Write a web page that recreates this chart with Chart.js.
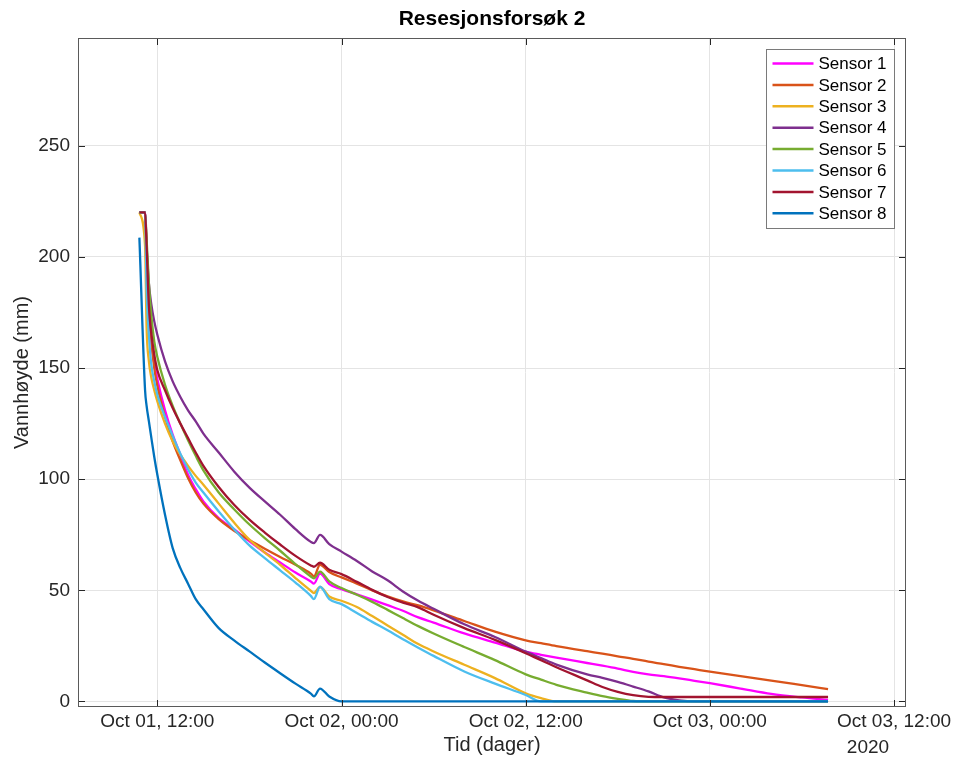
<!DOCTYPE html>
<html>
<head>
<meta charset="utf-8">
<script src="https://cdn.jsdelivr.net/npm/chart.js@4.4.1/dist/chart.umd.min.js"></script>
<style>
html,body{margin:0;padding:0;background:#ffffff;}
canvas{display:block;}
</style>
</head>
<body>
<canvas id="c" width="956" height="767"></canvas>
<script>
// ---------- text ----------
const chartTitle = 'Resesjonsforsøk 2';
const xAxisTitle = 'Tid (dager)';
const yAxisTitle = 'Vannhøyde (mm)';
const yearLabel = '2020';

// ---------- ticks (x in hours since Oct 01 00:00) ----------
const xTickHours = [12, 24, 36, 48, 60];
const xTickLabels = ['Oct 01, 12:00', 'Oct 02, 00:00', 'Oct 02, 12:00', 'Oct 03, 00:00', 'Oct 03, 12:00'];
const yTickValues = [0, 50, 100, 150, 200, 250];

// ---------- series ----------
const sensorNames = ['Sensor 1', 'Sensor 2', 'Sensor 3', 'Sensor 4', 'Sensor 5', 'Sensor 6', 'Sensor 7', 'Sensor 8'];
const sensorColors = ['#FF00FF', '#D95319', '#EDB120', '#7E2F8E', '#77AC30', '#4DBEEE', '#A2142F', '#0072BD'];

const timeHours = [10.83, 11.2, 11.3, 11.45, 11.6, 11.8, 12, 12.5, 13, 13.5, 14, 14.5, 15, 16, 17, 18, 19, 20, 21, 22,
  22.2, 22.6, 23.2, 24, 25, 26, 27, 28, 29, 30, 32, 34, 36, 37, 38, 40, 41, 42, 43, 44, 45, 46, 47, 48, 50, 52, 54, 55.7];

const sensor1 = [220, 220, 200, 178, 163, 152, 145, 131, 120, 111, 102, 95.5, 90, 82.5, 77.5, 72, 67, 62.5, 58, 54,
  53, 57.5, 52.8, 50.5, 48.2, 45.8, 43.3, 40.8, 37.8, 35.5, 30.6, 26.5, 22.4, 21, 19.7, 17.3, 16.1, 14.8, 13.3, 12.2, 11.4, 10.4, 9.3, 8.2, 5.8, 3.4, 1.8, 0.7];
const sensor2 = [220, 220, 203, 180, 163, 150, 142, 128, 117, 108.5, 100.5, 94, 89, 82, 76.8, 72.6, 68.7, 65, 61.5, 57.5,
  56.3, 61.5, 58.2, 55.8, 53, 50, 47.3, 45, 43.2, 41, 36.2, 31.4, 27.5, 26.2, 24.9, 22.6, 21.5, 20.3, 19.2, 17.9, 16.8, 15.6, 14.5, 13.4, 11.4, 9.4, 7.3, 5.5];
const sensor3 = [220, 205, 168, 153, 146, 140, 135, 125, 117, 111, 106, 101.5, 97.5, 89, 80.5, 72.8, 67, 61.5, 55.5, 49.8,
  48.8, 51.5, 47.2, 45.3, 42.5, 38.4, 34.2, 30, 25.8, 22.5, 16.5, 10.5, 3.7, 1.5, 0, 0, 0, 0, 0, 0, 0, 0, 0, 0, 0, 0, 0, 0];
const sensor4 = [220, 220, 205, 188, 179, 171, 165, 153, 144, 137, 131, 126, 120.5, 112, 103.5, 96.2, 90, 84, 77.5, 71.8,
  71.2, 74.9, 70.8, 67.4, 63.2, 58.5, 54.5, 49.5, 45.3, 41.7, 34.7, 29, 22.4, 19.5, 16.6, 12.2, 10.6, 8.8, 6.7, 4.5, 1.8, 0.5, 0, 0, 0, 0, 0, 0];
const sensor5 = [220, 220, 208, 188, 174, 162, 155, 142.5, 133, 125, 117.5, 110.5, 104, 94, 86.5, 79.6, 73.5, 67.8, 61.8, 56.2,
  55.4, 58.4, 54, 51, 48, 44.8, 41.2, 37.5, 33.9, 30.6, 24.5, 18.6, 12.2, 9.8, 7.5, 4, 2.4, 1.2, 0.2, 0, 0, 0, 0, 0, 0, 0, 0, 0];
const sensor6 = [220, 220, 185, 165, 152, 144, 138, 128, 119.5, 111.5, 104.5, 98.5, 94, 85.5, 77.5, 70.2, 64.5, 59, 53.5, 47.5,
  46, 51.6, 46, 43.8, 39.8, 35.8, 32, 28, 24.2, 20.5, 13.5, 8, 2.9, 0, 0, 0, 0, 0, 0, 0, 0, 0, 0, 0, 0, 0, 0, 0];
const sensor7 = [220, 220, 205, 178, 166, 156, 149, 140, 132, 125, 118.5, 112, 106, 96.5, 88.5, 81.8, 76, 70.6, 65.5, 61.2,
  60.6, 62.4, 59.2, 57.3, 53.8, 50.2, 47, 44.5, 42.3, 39, 33, 27.7, 21.7, 18.5, 15.4, 9.5, 6.5, 4.3, 2.8, 2.1, 2, 2, 2, 2, 2, 2, 2, 2];
const sensor8 = [208.7, 140, 133, 126, 119, 110, 102, 84, 69, 60, 53, 46, 41.5, 33, 27.5, 22.5, 17.5, 12.7, 8, 3.5,
  2.3, 5.8, 2.2, 0, 0, 0, 0, 0, 0, 0, 0, 0, 0, 0, 0, 0, 0, 0, 0, 0, 0, 0, 0, 0, 0, 0, 0, 0];

const seriesValues = [sensor1, sensor2, sensor3, sensor4, sensor5, sensor6, sensor7, sensor8];

// ---------- styling ----------
const FONT = "'Liberation Sans', Arial, Helvetica, sans-serif";
const TEXT = '#262626';

const datasets = sensorNames.map((name, i) => ({
  label: name,
  data: timeHours.map((t, k) => ({ x: t, y: seriesValues[i][k] })),
  borderColor: sensorColors[i],
  backgroundColor: sensorColors[i],
  borderWidth: 2.3,
  pointRadius: 0,
  cubicInterpolationMode: 'monotone',
  fill: false,
  order: sensorNames.length - 1 - i
}));

const decor = {
  id: 'decor',
  afterDraw(chart) {
    const { ctx, chartArea: a, scales: { x, y } } = chart;
    ctx.save();
    // title
    ctx.fillStyle = '#000';
    ctx.font = `bold 21px ${FONT}`;
    ctx.textAlign = 'center';
    ctx.textBaseline = 'middle';
    ctx.fillText(chartTitle, (a.left + a.right) / 2, 19);
    // year label
    ctx.fillStyle = TEXT;
    ctx.font = `19px ${FONT}`;
    ctx.fillText(yearLabel, 868, 748);
    // tick marks (inside)
    ctx.strokeStyle = '#262626';
    ctx.lineWidth = 1;
    ctx.beginPath();
    xTickHours.forEach(h => {
      const px = Math.round(x.getPixelForValue(h)) + 0.5;
      ctx.moveTo(px, a.bottom); ctx.lineTo(px, a.bottom - 7);
      ctx.moveTo(px, a.top); ctx.lineTo(px, a.top + 7);
    });
    yTickValues.forEach(v => {
      const py = Math.round(y.getPixelForValue(v)) + 0.5;
      ctx.moveTo(a.left, py); ctx.lineTo(a.left + 7, py);
      ctx.moveTo(a.right, py); ctx.lineTo(a.right - 7, py);
    });
    ctx.stroke();
    // box
    ctx.strokeStyle = '#5a5a5a';
    ctx.strokeRect(Math.round(a.left) + 0.5, Math.round(a.top) + 0.5, Math.round(a.width) - 1, Math.round(a.height) - 1);
    // legend
    const boxW = 128, boxH = 179, rowH = 21.4;
    const bx = Math.round(a.right - 12 - boxW) + 0.5, by = Math.round(a.top + 11) + 0.5;
    ctx.fillStyle = '#fff';
    ctx.fillRect(bx, by, boxW, boxH);
    ctx.strokeStyle = '#7a7a7a';
    ctx.strokeRect(bx, by, boxW, boxH);
    ctx.font = `17px ${FONT}`;
    ctx.textAlign = 'left';
    ctx.textBaseline = 'middle';
    chart.data.datasets.forEach((ds, i) => {
      const cy = by + 14 + i * rowH;
      ctx.strokeStyle = ds.borderColor;
      ctx.lineWidth = 2.5;
      ctx.beginPath();
      ctx.moveTo(bx + 6, cy); ctx.lineTo(bx + 47, cy);
      ctx.stroke();
      ctx.fillStyle = '#000';
      ctx.fillText(ds.label, bx + 52, cy + 1);
    });
    ctx.restore();
  }
};

new Chart(document.getElementById('c'), {
  type: 'line',
  data: { datasets },
  plugins: [decor],
  options: {
    responsive: false,
    animation: false,
    devicePixelRatio: 1,
    layout: { padding: { left: 0, right: 50, top: 38, bottom: 0 } },
    plugins: { legend: { display: false }, title: { display: false }, tooltip: { enabled: false } },
    scales: {
      x: {
        type: 'linear',
        min: 6.83,
        max: 60.78,
        afterBuildTicks: s => { s.ticks = xTickHours.map(v => ({ value: v })); },
        afterFit: s => { s.height = 60; },
        ticks: {
          autoSkip: false, maxRotation: 0, minRotation: 0, padding: 3,
          color: TEXT, font: { family: FONT, size: 19 },
          callback: v => { const i = xTickHours.indexOf(v); return i >= 0 ? xTickLabels[i] : ''; }
        },
        grid: { color: '#e4e4e4', lineWidth: 1, drawTicks: false },
        border: { display: false },
        title: { display: true, text: xAxisTitle, color: TEXT, font: { family: FONT, size: 20 }, padding: { top: 0, bottom: 10 } }
      },
      y: {
        type: 'linear',
        min: -2.5,
        max: 298.5,
        afterBuildTicks: s => { s.ticks = yTickValues.map(v => ({ value: v })); },
        afterFit: s => { s.width = 78; },
        ticks: { padding: 8, color: TEXT, font: { family: FONT, size: 19 } },
        grid: { color: '#e4e4e4', lineWidth: 1, drawTicks: false },
        border: { display: false },
        title: { display: true, text: yAxisTitle, color: TEXT, font: { family: FONT, size: 20 }, padding: { top: 10, bottom: 0 } }
      }
    }
  }
});
</script>
</body>
</html>
